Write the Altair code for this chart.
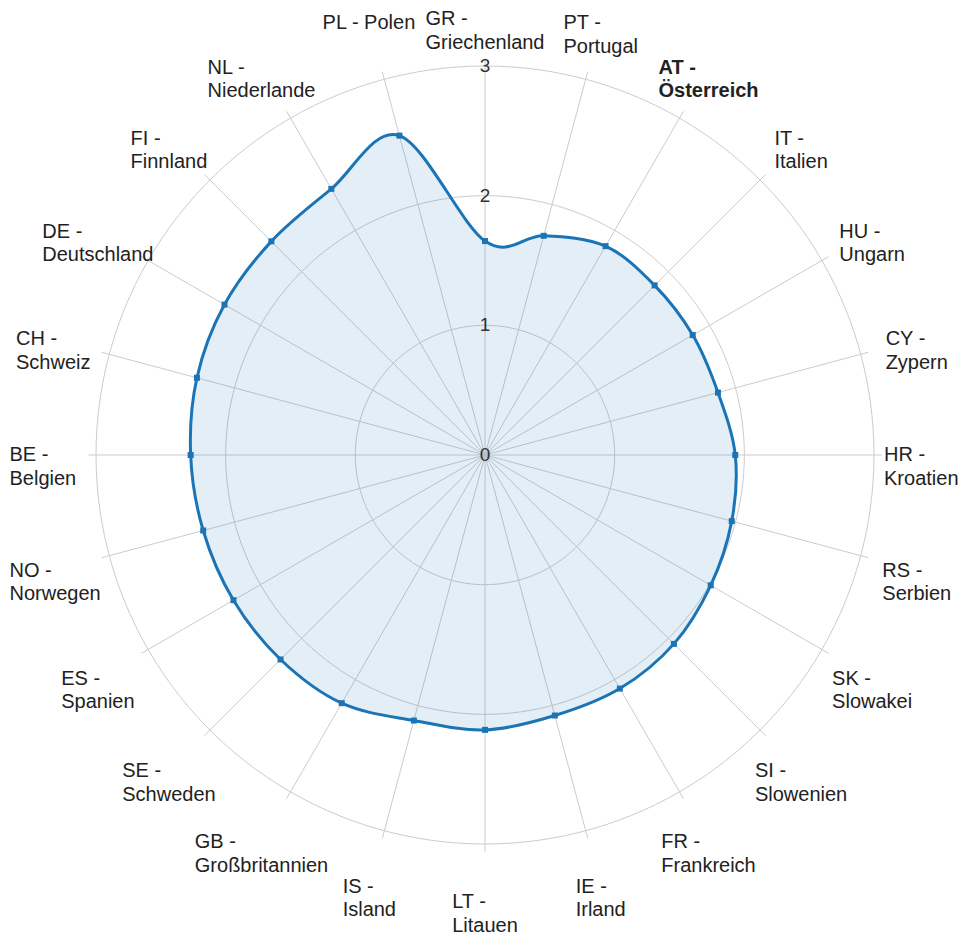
import altair as alt
import pandas as pd

# ---- data ----
codes = ["GR", "PT", "AT", "IT", "HU", "CY", "HR", "RS", "SK", "SI", "FR", "IE",
         "LT", "IS", "GB", "SE", "ES", "NO", "BE", "CH", "DE", "FI", "NL", "PL"]
names = ["Griechenland", "Portugal", "Österreich", "Italien", "Ungarn", "Zypern",
         "Kroatien", "Serbien", "Slowakei", "Slowenien", "Frankreich", "Irland",
         "Litauen", "Island", "Großbritannien", "Schweden", "Spanien", "Norwegen",
         "Belgien", "Schweiz", "Deutschland", "Finnland", "Niederlande", "Polen"]
values = [1.65, 1.75, 1.86, 1.85, 1.85, 1.86, 1.93, 1.97, 2.01, 2.06, 2.08, 2.08,
          2.12, 2.12, 2.21, 2.23, 2.24, 2.25, 2.27, 2.30, 2.32, 2.33, 2.37, 2.55]
ring_values = [1, 2, 3]
tick_values = [0, 1, 2, 3]
highlight = "AT"
single_line = ["PL"]

# ---- layout / style ----
W, H = 952, 926            # plot area (page margin 8px)
CX, CY = 477, 447          # centre of the radar in plot pixels
K = 389 / 3                # pixels per unit
R_SPOKE = 3.06
R_LABEL = 447 / K
FONT = "Liberation Sans"
FS = 20
LINE_H = 23.5
BLUE = "#1a74b6"
GRID = "#cccccc"
TEXT = "#222222"
N = len(codes)

XMIN, XMAX = -CX / K, (W - CX) / K
YMIN, YMAX = -(H - CY) / K, CY / K

ARIAL = {" ": 278, "-": 333,
         "A": 667, "B": 667, "C": 722, "D": 722, "E": 667, "F": 611, "G": 778, "H": 722,
         "I": 278, "J": 500, "K": 667, "L": 556, "M": 833, "N": 722, "O": 778, "P": 667,
         "Q": 778, "R": 722, "S": 667, "T": 611, "U": 722, "V": 667, "W": 944, "X": 667,
         "Y": 667, "Z": 611, "Ö": 778,
         "a": 556, "b": 556, "c": 500, "d": 556, "e": 556, "f": 278, "g": 556, "h": 556,
         "i": 222, "j": 222, "k": 500, "l": 222, "m": 833, "n": 556, "o": 556, "p": 556,
         "q": 556, "r": 333, "s": 500, "t": 278, "u": 556, "v": 500, "w": 722, "x": 500,
         "y": 500, "z": 500, "ß": 611, "ö": 556}
ARIAL_BOLD = {" ": 278, "-": 333, "A": 722, "T": 611, "Ö": 778, "s": 556, "t": 333,
              "e": 556, "r": 389, "i": 278, "c": 556, "h": 611}


def text_px(s, bold=False):
    table = ARIAL_BOLD if bold else ARIAL
    return sum(table.get(ch, 556) for ch in s) * FS / 1000


rows = []
for i, (c, n, v) in enumerate(zip(codes, names, values)):
    if c in single_line:
        l1, l2 = f"{c} - {n}", ""
    else:
        l1, l2 = f"{c} -", n
    bold = c == highlight
    w = max(text_px(l1, bold), text_px(l2, bold))
    rows.append({"idx": i, "code": c, "value": v, "line1": l1, "line2": l2,
                 "bold": bold, "halfw": w / 2 / K})
df = pd.DataFrame(rows)

xs = alt.Scale(domain=[XMIN, XMAX], nice=False, zero=False)
ys = alt.Scale(domain=[YMIN, YMAX], nice=False, zero=False)
X = lambda f: alt.X(f, type="quantitative", scale=xs, axis=None)
Y = lambda f: alt.Y(f, type="quantitative", scale=ys, axis=None)

ang = f"datum.idx * 2 * PI / {N}"

base = alt.Chart(df).transform_calculate(a=ang).transform_calculate(
    x="datum.value * sin(datum.a)",
    y="datum.value * cos(datum.a)",
    x0="0", y0="0",
    sx=f"{R_SPOKE} * sin(datum.a)",
    sy=f"{R_SPOKE} * cos(datum.a)",
    lx=(f"clamp({R_LABEL} * sin(datum.a) - datum.halfw, {XMIN + 1.5 / K}, "
        f"{XMAX - 1.5 / K} - 2 * datum.halfw)"),
    ly=f"min({R_LABEL} * cos(datum.a), {YMAX - 11 / K})",
)

rings = alt.Chart(pd.DataFrame({"ring": ring_values})).transform_calculate(
    deg="sequence(0, 362, 2)"
).transform_flatten(["deg"]).transform_calculate(
    x="datum.ring * sin(datum.deg * PI / 180)",
    y="datum.ring * cos(datum.deg * PI / 180)",
).mark_line(color=GRID, strokeWidth=1).encode(
    x=X("x"), y=Y("y"), detail="ring:N", order="deg:Q"
)

spokes = base.mark_rule(color=GRID, strokeWidth=1).encode(
    x=X("x0"), y=Y("y0"), x2="sx:Q", y2="sy:Q"
)

fill = base.mark_line(interpolate="cardinal-closed", fill=BLUE, fillOpacity=0.12,
                      strokeOpacity=0).encode(x=X("x"), y=Y("y"), order="idx:Q")

line = base.mark_line(interpolate="cardinal-closed", color=BLUE, strokeWidth=3).encode(
    x=X("x"), y=Y("y"), order="idx:Q")

markers = base.mark_square(color=BLUE, size=36, opacity=1).encode(x=X("x"), y=Y("y"))


def label_layer(field, bold, dy):
    cond = "datum.bold" if bold else "!datum.bold"
    return base.transform_filter(cond).mark_text(
        align="left", baseline="middle", font=FONT, fontSize=FS,
        fontWeight="bold" if bold else "normal", color=TEXT, dy=dy
    ).encode(x=X("lx"), y=Y("ly"), text=f"{field}:N")


labels = [label_layer("line1", False, 0), label_layer("line2", False, LINE_H),
          label_layer("line1", True, 0), label_layer("line2", True, LINE_H)]

ticks = alt.Chart(pd.DataFrame({"v": tick_values})).transform_calculate(x0="0").mark_text(
    align="center", baseline="middle", font=FONT, fontSize=19, color="#333333"
).encode(x=X("x0"), y=Y("v"), text="v:Q")

chart = alt.layer(rings, spokes, fill, line, markers, ticks, *labels).properties(
    width=W, height=H, padding=0, autosize=alt.AutoSizeParams(type="none")
).configure_view(stroke=None)

chart.save("out.html", embed_options={"renderer": "svg", "actions": False})
